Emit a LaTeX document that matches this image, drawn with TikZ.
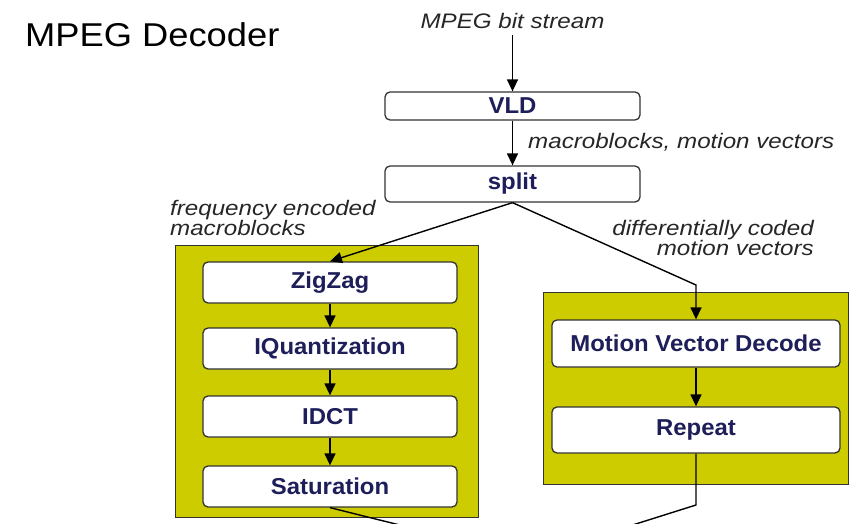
\documentclass[tikz,border=0pt]{standalone}
\usepackage{fontspec}
\setmainfont{Liberation Sans}
\newfontfamily\titlefont{Liberation Sans}[FakeStretch=1.1]
\newfontfamily\lblfont{Liberation Sans}[FakeStretch=1.15]
\newfontfamily\blkfont{Liberation Sans}[FakeStretch=1.04]
\usetikzlibrary{arrows.meta}
\definecolor{grpyellow}{RGB}{204,204,0}
\definecolor{blknavy}{RGB}{30,30,90}

\begin{document}
\begin{tikzpicture}[x=1pt,y=-1pt,
    blk/.style={draw=black!80,line width=1.3pt,fill=white,rounded corners=5pt,inner sep=0pt,
        font=\blkfont\fontsize{23}{24}\selectfont\bfseries,text=blknavy},
    grp/.style={draw=black!80,line width=1pt,fill=grpyellow,inner sep=0pt},
    lbl/.style={font=\lblfont\fontsize{21}{20}\selectfont\itshape,text=black!85,inner sep=0pt},
    flow/.style={line width=1.4pt,-{Triangle[length=12pt,width=11pt]}}]
    \useasboundingbox (0,0) rectangle (851,524);
    \node[anchor=base west,inner sep=0pt,font=\titlefont\fontsize{33}{36}\selectfont] (title) at (25,47) {MPEG Decoder};

    % the two groups
    \node[grp,minimum width=303pt,minimum height=272pt] (freqgrp) at (326.5,381) {};
    \node[grp,minimum width=305pt,minimum height=192pt] (mvgrp) at (695.5,388) {};

    \node[blk,minimum width=255pt,minimum height=28pt] (vld) at (512.5,106) {VLD};
    \node[blk,minimum width=255pt,minimum height=36pt] (split) at (512.5,184) {split};

    \node[blk,minimum width=254pt,minimum height=41pt] (zigzag) at (330,282.5) {ZigZag};
    \node[blk,minimum width=254pt,minimum height=41pt] (iquant) at (330,348.5) {IQuantization};
    \node[blk,minimum width=254pt,minimum height=41pt] (idct) at (330,416.5) {IDCT};
    \node[blk,minimum width=254pt,minimum height=41pt] (sat) at (330,486.5) {Saturation};

    \node[blk,minimum width=288pt,minimum height=47pt] (mvd) at (696,343.5) {Motion Vector Decode};
    \node[blk,minimum width=288pt,minimum height=46pt] (repeat) at (696,430) {Repeat};

    \node[lbl,anchor=base] (bits) at (512.5,29) {MPEG bit stream};
    \node[lbl,anchor=base west] (mbmv) at (528,148) {macroblocks, motion vectors};
    \node[lbl,anchor=base west,align=left] (freq) at (170,235) {frequency encoded\\macroblocks};
    \node[lbl,anchor=base east,align=right] (diff) at (814,255) {differentially coded\\motion vectors};

    \draw[flow,shorten <=6pt] (bits.south) -- (vld.north);
    \draw[flow] (vld) -- (split);
    \draw[flow] (split.south) -- (zigzag.north);
    \coordinate (bend) at (696,285);
    \draw[flow] (split.south) -- (bend) -- (mvd.north);

    \draw[flow] (zigzag) -- (iquant);
    \draw[flow] (iquant) -- (idct);
    \draw[flow] (idct) -- (sat);
    \draw[flow] (mvd) -- (repeat);

    % lines leaving the picture at the bottom
    \coordinate (satout) at (460,540);
    \coordinate (repbend) at (696,505);
    \coordinate (repout) at (585,540);
    \begin{scope}
        \clip (0,0) rectangle (851,524);
        \draw[line width=1.4pt] (sat.south) -- (satout);
        \draw[line width=1.4pt] (repeat.south) -- (repbend) -- (repout);
    \end{scope}
\end{tikzpicture}
\end{document}
